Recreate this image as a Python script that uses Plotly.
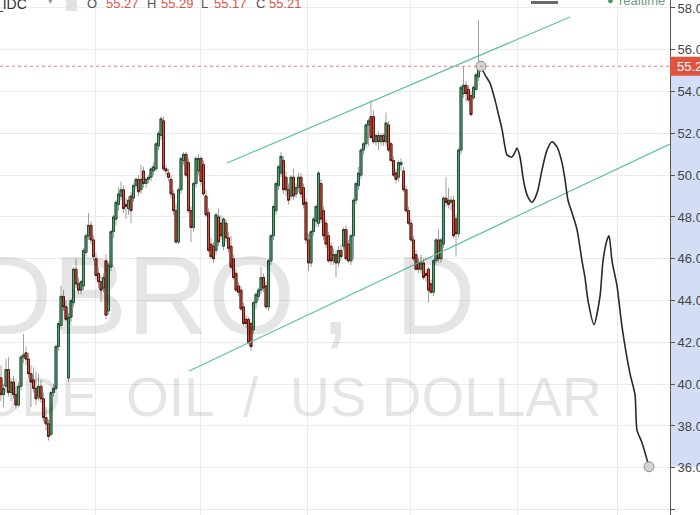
import plotly.graph_objects as go

# ---------------- data (daily OHLC) ----------------
opens = [40.3, 39.5, 39.9, 40.7, 39.6, 40.1, 39.5, 39.0, 39.9, 41.3,
         41.5, 41.2, 40.5, 40.2, 39.8, 39.4, 39.9, 39.3, 38.4, 38.1,
         37.6, 39.6, 39.8, 41.8, 42.8, 44.2, 43.7, 40.3, 43.2, 43.9,
         45.5, 44.8, 44.5, 44.7, 46.3, 47.1, 47.6, 46.9, 46.0, 45.3,
         44.9, 44.6, 45.9, 43.5, 45.6, 47.3, 47.9, 48.6, 49.0, 49.3,
         48.6, 48.4, 49.0, 48.9, 49.5, 49.8, 49.3, 50.2, 49.6, 49.8,
         49.9, 50.2, 50.3, 51.4, 51.9, 52.6, 50.3, 50.1, 49.8, 49.1,
         48.3, 46.8, 49.3, 50.7, 51.0, 50.6, 48.3, 47.5, 49.6, 50.2,
         50.8, 50.5, 49.0, 48.2, 46.7, 46.6, 46.4, 48.0, 47.7, 46.6,
         47.7, 47.0, 46.6, 46.0, 45.3, 44.7, 44.5, 43.7, 43.1, 43.1,
         42.9, 42.6, 43.9, 44.2, 44.5, 45.1, 44.7, 43.7, 45.9, 47.1,
         48.3, 49.5, 50.1, 50.7, 49.9, 49.3, 49.0, 49.9, 49.1, 49.4,
         49.9, 49.4, 48.7, 46.9, 45.8, 47.3, 47.8, 47.7, 49.6, 48.3,
         47.7, 47.1, 46.6, 45.9, 46.2, 45.8, 46.4, 46.6, 47.4, 46.7,
         45.9, 47.1, 48.8, 49.5, 50.0, 51.2, 51.5, 52.4, 52.8, 52.8,
         51.6, 51.9, 51.6, 51.9, 51.6, 52.4, 51.5, 50.7, 50.1, 49.9,
         50.5, 50.2, 49.3, 48.3, 47.7, 46.9, 46.2, 45.8, 45.5, 45.8,
         45.3, 45.5, 44.8, 44.4, 45.9, 46.9, 46.0, 46.7, 48.9, 48.8,
         48.7, 48.8, 47.9, 47.2, 51.2, 53.9, 54.3, 54.1, 53.8, 53.7,
         54.1, 54.7, 55.27]
highs = [40.9, 40.0, 41.2, 41.3, 40.3, 40.4, 39.9, 40.1, 41.4, 42.4,
         41.8, 41.5, 40.9, 40.8, 40.6, 40.5, 40.2, 39.6, 38.9, 38.3,
         39.7, 40.0, 41.9, 43.0, 44.7, 44.5, 44.0, 43.4, 44.1, 45.6,
         46.0, 45.1, 45.0, 46.5, 47.2, 48.2, 47.8, 47.1, 46.3, 45.6,
         45.2, 45.3, 46.2, 45.8, 47.4, 48.1, 48.8, 49.4, 49.7, 49.5,
         48.9, 49.0, 49.2, 49.6, 49.9, 50.0, 50.5, 50.4, 49.9, 50.0,
         50.4, 50.6, 51.6, 52.1, 52.8, 52.8, 50.5, 50.3, 50.0, 49.3,
         48.6, 49.4, 50.9, 51.1, 51.1, 50.8, 48.5, 49.7, 50.9, 51.0,
         50.9, 50.7, 49.3, 48.4, 47.0, 46.8, 48.2, 48.4, 48.1, 48.0,
         47.9, 47.3, 47.1, 46.2, 45.5, 44.9, 44.7, 43.9, 43.3, 43.2,
         43.0, 44.0, 44.4, 44.6, 45.6, 45.3, 44.9, 46.0, 47.2, 48.6,
         49.7, 50.5, 51.1, 50.9, 50.2, 49.6, 50.0, 50.3, 49.6, 50.1,
         50.1, 49.6, 48.9, 47.2, 47.4, 48.0, 48.6, 50.2, 49.8, 48.5,
         47.9, 47.3, 46.8, 46.5, 46.4, 46.6, 46.7, 47.5, 47.6, 46.9,
         47.2, 48.9, 49.7, 50.4, 51.3, 51.6, 52.5, 52.7, 53.6, 53.1,
         52.0, 52.1, 52.0, 52.0, 53.0, 52.6, 51.6, 50.9, 50.3, 50.7,
         50.8, 50.4, 49.5, 48.5, 47.9, 47.1, 46.4, 46.0, 46.2, 46.0,
         45.5, 45.6, 45.0, 46.0, 47.0, 47.4, 47.0, 49.0, 49.9, 49.4,
         49.0, 49.0, 48.1, 51.3, 54.3, 55.2, 54.5, 54.3, 54.0, 54.3,
         54.9, 57.4, 55.29]
lows = [39.2, 38.9, 39.6, 39.4, 39.2, 39.3, 38.8, 38.9, 39.7, 41.0,
        40.9, 40.3, 38.9, 39.6, 39.0, 39.2, 39.1, 38.2, 37.8, 37.3,
        37.5, 39.4, 39.7, 41.6, 42.6, 43.5, 43.0, 40.1, 43.0, 43.7,
        44.6, 44.3, 44.3, 44.5, 46.1, 46.9, 46.7, 45.9, 45.0, 44.6,
        43.9, 44.4, 43.1, 43.3, 45.4, 47.0, 47.6, 48.3, 48.8, 48.2,
        47.9, 48.1, 47.7, 48.7, 49.3, 49.0, 49.1, 49.4, 49.4, 49.6,
        49.7, 50.0, 50.2, 51.2, 51.7, 50.2, 50.0, 49.7, 48.9, 48.1,
        46.7, 46.7, 49.1, 50.5, 49.9, 48.2, 46.8, 47.3, 49.4, 50.0,
        49.5, 49.0, 48.0, 46.3, 46.0, 45.8, 46.2, 46.6, 46.9, 46.4,
        46.8, 46.3, 45.5, 45.0, 44.4, 44.2, 43.5, 42.8, 42.7, 41.9,
        41.6, 42.4, 43.6, 44.0, 44.3, 44.4, 43.6, 43.5, 45.7, 46.9,
        48.1, 49.3, 49.9, 49.1, 49.0, 48.6, 48.8, 48.8, 48.9, 49.2,
        48.9, 48.4, 46.7, 45.4, 45.6, 47.1, 47.5, 47.5, 47.7, 46.9,
        46.5, 45.8, 45.7, 45.7, 45.1, 45.6, 45.9, 46.4, 45.9, 45.8,
        45.7, 46.0, 48.6, 49.3, 49.8, 51.0, 51.3, 51.4, 51.7, 51.5,
        51.4, 51.2, 51.4, 51.4, 51.4, 51.1, 50.6, 49.9, 49.6, 49.7,
        50.2, 49.2, 48.2, 47.6, 46.8, 45.9, 45.4, 45.3, 45.3, 45.0,
        44.9, 43.9, 44.3, 44.2, 45.7, 45.8, 45.8, 46.5, 48.5, 48.4,
        48.3, 47.0, 46.1, 47.0, 51.0, 53.7, 53.5, 53.5, 52.8, 53.6,
        54.0, 54.5, 55.17]
closes = [39.5, 39.8, 40.7, 39.6, 40.1, 39.5, 39.0, 39.9, 41.3, 41.4,
          41.2, 40.5, 40.1, 39.8, 39.3, 39.9, 39.3, 38.4, 38.1, 37.5,
          39.6, 39.8, 41.8, 42.9, 44.2, 43.7, 43.1, 43.2, 44.0, 45.5,
          44.8, 44.5, 44.9, 46.4, 47.1, 47.6, 46.9, 46.1, 45.2, 44.9,
          44.5, 45.1, 43.3, 45.7, 47.3, 48.0, 48.7, 49.1, 49.3, 48.4,
          48.5, 48.8, 48.3, 49.5, 49.8, 49.2, 49.8, 49.6, 49.8, 49.9,
          50.3, 50.4, 51.5, 52.0, 52.7, 50.3, 50.2, 49.9, 49.1, 48.3,
          46.8, 49.3, 50.8, 51.0, 50.0, 48.3, 47.5, 49.6, 50.8, 50.8,
          49.7, 49.1, 48.1, 46.4, 46.1, 46.0, 48.1, 46.8, 47.1, 47.9,
          47.0, 46.5, 45.6, 45.1, 44.5, 44.4, 43.6, 42.9, 42.9, 42.0,
          41.8, 43.9, 44.3, 44.5, 45.1, 44.6, 43.7, 45.9, 47.1, 48.5,
          49.6, 50.4, 50.9, 49.3, 49.3, 48.8, 49.9, 49.0, 49.4, 49.9,
          49.1, 48.6, 46.9, 45.8, 47.3, 47.9, 48.5, 50.1, 47.9, 47.1,
          46.7, 45.9, 45.9, 46.2, 45.8, 46.4, 46.1, 47.4, 46.0, 45.9,
          47.1, 48.8, 49.6, 50.1, 51.2, 51.5, 52.4, 52.6, 51.8, 51.6,
          51.9, 51.6, 51.9, 51.6, 52.5, 51.2, 50.7, 50.0, 49.8, 50.6,
          50.6, 49.3, 48.3, 47.7, 46.9, 46.0, 45.5, 45.5, 45.8, 45.1,
          45.2, 44.5, 44.4, 45.9, 46.9, 46.0, 46.9, 48.9, 48.7, 48.6,
          48.8, 47.1, 47.2, 51.2, 54.2, 54.3, 53.9, 53.6, 52.9, 54.2,
          54.8, 55.3, 55.21]

# hand-drawn projection (bar index, price)
proj_bar = [192, 193.6, 195.6, 197.6, 198.8, 200.4, 201.6, 202.4, 204.4, 205.6,
            206.4, 207.6, 208.8, 209.6, 210.8, 212.4, 213.6, 214.8, 216.4, 218.4,
            220.4, 222.4, 224.4, 225.6, 226.8, 228.4, 230.4, 232.4, 233.6, 234.8,
            237.2, 239.6, 240.8, 242.4, 243.2, 244.4, 246.4, 248.4, 251.6, 253.6,
            254.4, 256.4, 259.2]
proj_price = [55.21, 54.8, 54.4, 53.6, 53.0, 52.2, 51.35, 50.97, 50.87, 51.1,
              51.3, 50.87, 49.9, 49.4, 48.95, 48.7, 48.9, 49.3, 50.25, 51.2,
              51.6, 51.35, 50.6, 49.8, 48.8, 48.2, 47.4, 45.9, 45.1, 44.0,
              42.85, 44.2, 45.9, 46.9, 47.1, 45.9, 44.7, 42.75, 40.5, 39.5,
              37.8, 37.2, 36.05]

# channel trend lines (bar index, price)
upper_bar = [90.4, 227.6]
upper_price = [50.58, 57.57]
lower_bar = [75.2, 267.6]
lower_price = [40.63, 51.49]

# time-scale grid (month boundaries, in bar index)
month_grid = [37.6, 79.6, 122.4, 163.6, 206.4, 246.4]
price_ticks = [34, 36, 38, 40, 42, 44, 46, 48, 50, 52, 54, 56, 58]

# ---------------- styling ----------------
UP_FILL, UP_LINE = "#5E9E77", "#225437"
DN_FILL, DN_LINE = "#D05440", "#5B1A13"
WICK = "#a0a0a0"
TEAL = "#5DC1A6"
RED = "#E0533F"
PW = 670.0   # plot width in px
H = 515.0

bar_idx = list(range(len(closes)))
body_hi = [max(o, c) for o, c in zip(opens, closes)]
body_lo = [min(o, c) for o, c in zip(opens, closes)]

fig = go.Figure()

# candle wicks (full range, grey)
fig.add_trace(go.Candlestick(
    x=bar_idx, open=opens, high=highs, low=lows, close=closes,
    increasing=dict(line=dict(color=WICK, width=1), fillcolor=UP_FILL),
    decreasing=dict(line=dict(color=WICK, width=1), fillcolor=DN_FILL),
    whiskerwidth=0, hoverinfo="skip", showlegend=False))
# candle bodies with dark borders
fig.add_trace(go.Candlestick(
    x=bar_idx, open=opens, high=body_hi, low=body_lo, close=closes,
    increasing=dict(line=dict(color=UP_LINE, width=1), fillcolor=UP_FILL),
    decreasing=dict(line=dict(color=DN_LINE, width=1), fillcolor=DN_FILL),
    whiskerwidth=0, hoverinfo="skip", showlegend=False))

# channel lines
for bx, py in ((upper_bar, upper_price), (lower_bar, lower_price)):
    fig.add_trace(go.Scatter(x=bx, y=py, mode="lines",
                             line=dict(color=TEAL, width=1.2),
                             hoverinfo="skip", showlegend=False))

# projection path
fig.add_trace(go.Scatter(x=proj_bar, y=proj_price, mode="lines",
                         line=dict(color="#2a2a2a", width=1.6, shape="spline", smoothing=0.7),
                         hoverinfo="skip", showlegend=False))
fig.add_trace(go.Scatter(x=[proj_bar[0], proj_bar[-1]], y=[proj_price[0], proj_price[-1]],
                         mode="markers",
                         marker=dict(size=10, color="#d4d4d4", line=dict(color="#8c8c8c", width=1)),
                         hoverinfo="skip", showlegend=False))

last = closes[-1]
shapes = [
    # price-scale highlight of the drawing's range
    dict(type="rect", xref="paper", yref="y", x0=1.0, x1=1.1,
         y0=proj_price[-1], y1=proj_price[0], fillcolor="#D3DEF6",
         line=dict(width=0), layer="below"),
    # last price dotted line
    dict(type="line", xref="paper", yref="y", x0=0, x1=1, y0=last, y1=last,
         line=dict(color="#E8796C", width=1, dash="dot"), layer="above"),
    # last price label box
    dict(type="rect", xref="paper", yref="y", x0=1.0, x1=1.1,
         y0=last - 0.45, y1=last + 0.45, fillcolor=RED, line=dict(width=0), layer="above"),
    # header icon + toolbar mark
    dict(type="rect", xref="paper", yref="paper", x0=66 / PW, x1=77 / PW,
         y0=1 - 11 / H, y1=1.0, fillcolor="#e2e2e2", line=dict(width=0), layer="above"),
    dict(type="rect", xref="paper", yref="paper", x0=531 / PW, x1=558 / PW,
         y0=1 - 4 / H, y1=1 - 1 / H, fillcolor="#6a6a6a", line=dict(width=0), layer="above"),
]

WM = "rgba(0,0,0,0.10)"
FONT = "Arial, Liberation Sans, sans-serif"
annotations = []

def wm(txt, px, py, size, anchor):
    annotations.append(dict(text=txt, xref="paper", yref="paper", x=px / PW, y=1 - py / H,
                            xanchor=anchor, yanchor="middle", showarrow=False,
                            font=dict(size=size, color=WM, family=FONT)))

# watermark: symbol + interval, then description
wm("USDBRO", 297, 295.5, 112, "right")
wm(",", 318, 295.5, 112, "left")
wm("D", 393, 295.5, 112, "left")
wm("CRUDE", 100, 397, 55, "right")
wm("OIL", 124, 397, 55, "left")
wm("/", 241, 397, 55, "left")
wm("US DOLLAR", 604, 397, 55, "right")

annotations.append(dict(text=f"{last:.2f}", xref="paper", yref="y", x=1.0, y=last, xshift=5,
                        xanchor="left", yanchor="middle", showarrow=False,
                        font=dict(size=13, color="white", family=FONT)))

def head(txt, px, color, size=13, anchor="left", ys=6):
    annotations.append(dict(text=txt, xref="paper", yref="paper", x=px / PW, y=1.0,
                            xanchor=anchor, yanchor="top", yshift=ys, showarrow=False,
                            font=dict(size=size, color=color, family=FONT)))

head("FX_IDC", 29, "#333333", size=14, anchor="right")
head("▾", 46, "#9a9a9a", size=9)
head("O", 85, "#555555")
head(f"{opens[-1]:.2f}", 104, RED)
head("H", 145, "#555555")
head(f"{highs[-1]:.2f}", 159, RED)
head("L", 199, "#555555")
head(f"{lows[-1]:.2f}", 212, RED)
head("C", 254, "#555555")
head(f"{closes[-1]:.2f}", 267, RED)
head("●", 605, "#3E9E62", size=11, ys=8)
head("realtime", 617, "#6f9a80", ys=9)

fig.update_layout(
    width=700, height=515,
    margin=dict(l=0, r=30, t=0, b=0, pad=0),
    paper_bgcolor="white", plot_bgcolor="white",
    showlegend=False, boxgap=0.15, boxgroupgap=0.05,
    shapes=shapes, annotations=annotations,
    xaxis=dict(range=[-0.4, 267.6], showticklabels=False, tickvals=month_grid,
               showgrid=True, gridcolor="#ECECEC", gridwidth=1, zeroline=False,
               showline=False, ticks="", rangeslider=dict(visible=False), fixedrange=True),
    yaxis=dict(side="right", range=[33.74, 58.38], tickvals=price_ticks, tickformat=".2f",
               showgrid=True, gridcolor="#ECECEC", gridwidth=1, zeroline=False,
               showline=True, linecolor="#555555", linewidth=1,
               ticks="outside", ticklen=4, tickcolor="#555555",
               tickfont=dict(size=13, color="#444444", family=FONT),
               automargin=False, fixedrange=True),
)

fig.write_html("out.html", config={"displayModeBar": False},
               post_script="document.body.style.margin='0';document.body.style.overflow='hidden';")
